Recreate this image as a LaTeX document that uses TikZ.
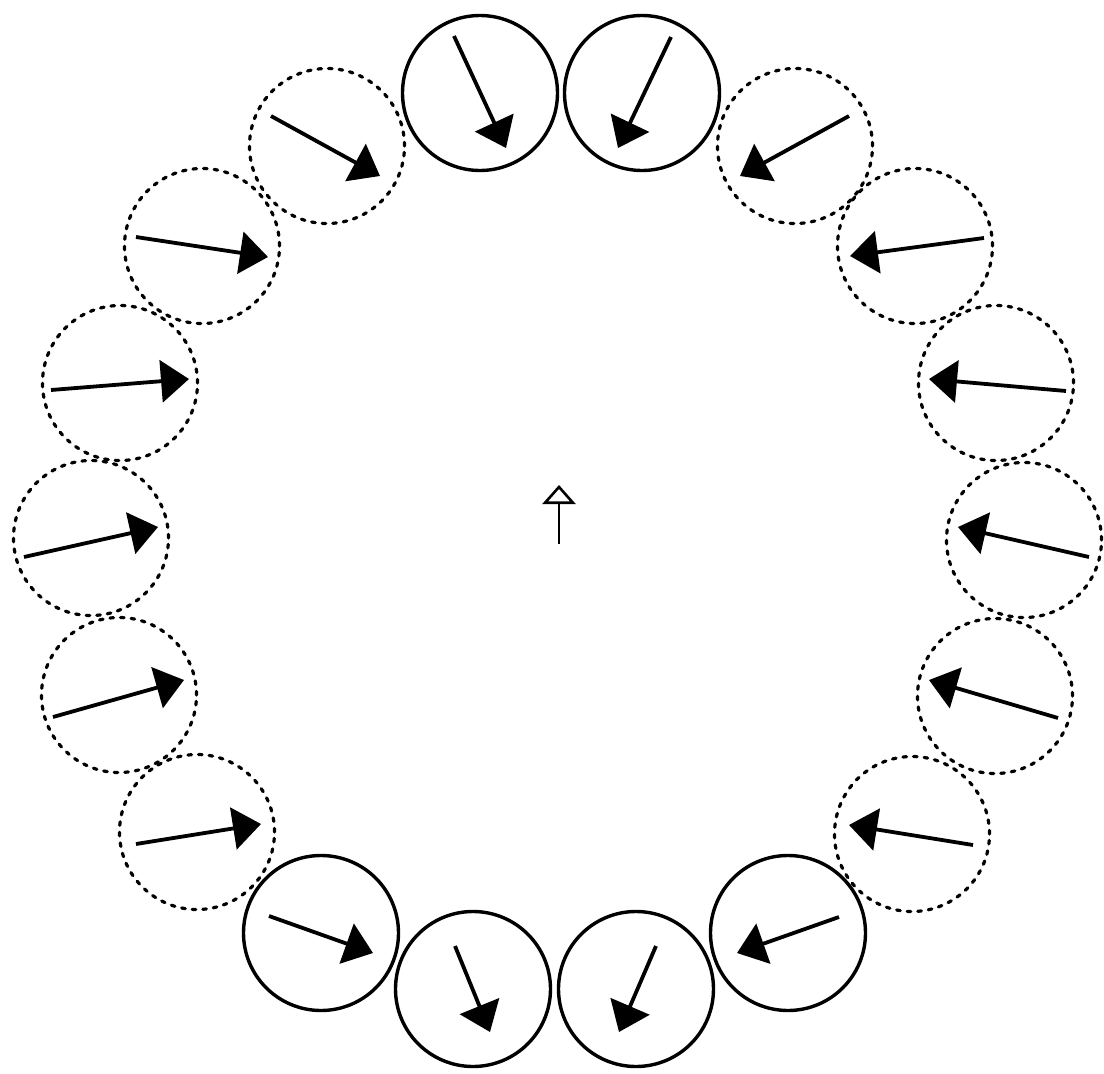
\documentclass[tikz,border=0pt]{standalone}
\usetikzlibrary{arrows.meta}
\tikzset{
  solidring/.style={circle, draw, line width=3.4pt, minimum size=155pt, inner sep=0pt},
  dashring/.style={circle, draw, line width=3.2pt, minimum size=155pt, inner sep=0pt,
    dash pattern=on 3.6pt off 7pt, line cap=round},
  ptr/.style={line width=3.8pt, -{Triangle[length=28pt,width=42pt]}},
  hollowptr/.style={line width=2.6pt, -{Triangle[open,length=19pt,width=33pt,line width=2.6pt]}}
}
\begin{document}
\begin{tikzpicture}[x=1pt,y=-1pt]
\useasboundingbox (0,0) rectangle (1104,1074);
% rings
\node[solidring] (t1) at (480,93) {};
\node[solidring] (t2) at (642,93) {};
\node[dashring] (tl) at (327,146) {};
\node[dashring] (tr) at (795,146) {};
\node[dashring] (l1) at (202,246) {};
\node[dashring] (l2) at (120,383) {};
\node[dashring] (l3) at (91,538) {};
\node[dashring] (l4) at (119,695) {};
\node[dashring] (l5) at (197,832) {};
\node[dashring] (r1) at (915,246) {};
\node[dashring] (r2) at (996,383) {};
\node[dashring] (r3) at (1024,540) {};
\node[dashring] (r4) at (995,696) {};
\node[dashring] (r5) at (912,834) {};
\node[solidring] (b1) at (321,933) {};
\node[solidring] (b2) at (473,989) {};
\node[solidring] (b3) at (636,989) {};
\node[solidring] (b4) at (788,933) {};
% arrow ends
\coordinate (t1a) at (454,36);   \coordinate (t1b) at (506,148);
\coordinate (t2a) at (671,37);   \coordinate (t2b) at (618,148);
\coordinate (tla) at (271,116);  \coordinate (tlb) at (380,176);
\coordinate (tra) at (849,116);  \coordinate (trb) at (740,176);
\coordinate (l1a) at (136,237);  \coordinate (l1b) at (268,257);
\coordinate (l2a) at (51,390);   \coordinate (l2b) at (189,379);
\coordinate (l3a) at (24,557);   \coordinate (l3b) at (158,527);
\coordinate (l4a) at (53,717);   \coordinate (l4b) at (184,680);
\coordinate (l5a) at (136,844);  \coordinate (l5b) at (261,824);
\coordinate (r1a) at (984,238);  \coordinate (r1b) at (850,256);
\coordinate (r2a) at (1066,391); \coordinate (r2b) at (929,379);
\coordinate (r3a) at (1089,557); \coordinate (r3b) at (958,527);
\coordinate (r4a) at (1058,718); \coordinate (r4b) at (929,680);
\coordinate (r5a) at (973,845);  \coordinate (r5b) at (849,825);
\coordinate (b1a) at (269,916);  \coordinate (b1b) at (373,953);
\coordinate (b2a) at (455,946);  \coordinate (b2b) at (490,1032);
\coordinate (b3a) at (656,946);  \coordinate (b3b) at (619,1032);
\coordinate (b4a) at (839,917);  \coordinate (b4b) at (737,953);
\coordinate (ca) at (559,544);   \coordinate (cb) at (559,485);
% arrows
\foreach \n in {t1,t2,tl,tr,l1,l2,l3,l4,l5,r1,r2,r3,r4,r5,b1,b2,b3,b4}
  \draw[ptr] (\n a) -- (\n b);
\draw[hollowptr] (ca) -- (cb);
\end{tikzpicture}
\end{document}
